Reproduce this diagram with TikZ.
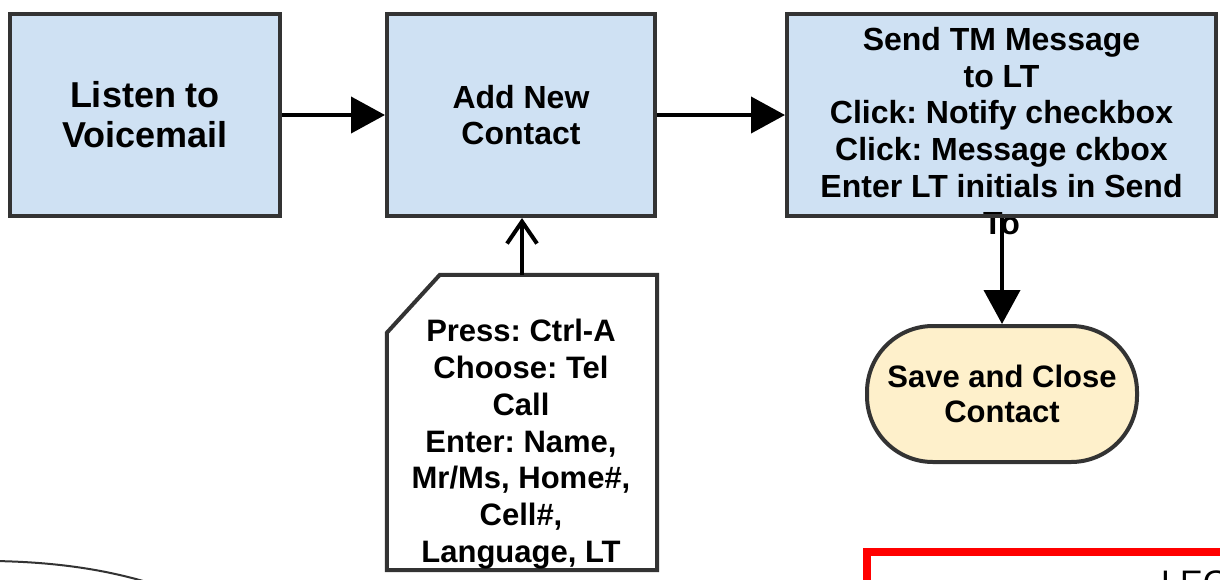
\documentclass[tikz,border=0pt]{standalone}
\usepackage{fontspec}
\setmainfont{Liberation Sans}
\usetikzlibrary{arrows.meta,calc}
\definecolor{procfill}{HTML}{CFE1F3}
\definecolor{termfill}{HTML}{FEF0CB}
\definecolor{edgeline}{HTML}{333333}
\definecolor{legendred}{HTML}{FF0000}
\frenchspacing

\begin{document}
\begin{tikzpicture}[x=1pt,y=-1pt,
  proc/.style={draw=edgeline, line width=4pt, fill=procfill, rectangle,
    inner sep=0pt, align=center},
  term/.style={draw=edgeline, line width=4pt, fill=termfill, rectangle,
    rounded corners=66pt, inner sep=0pt, align=center,
    minimum width=270pt, minimum height=136pt},
  txt/.style={font=\fontsize{32}{36.8}\selectfont\bfseries, align=center},
  flow/.style={line width=4pt, -{Triangle[length=34pt,width=36pt]}},
  feed/.style={line width=4pt, -{Straight Barb[length=22pt,width=30pt]}}
]
\clip (0,0) rectangle (1220,579);
\useasboundingbox (0,0) rectangle (1220,579);

% process boxes
\node[proc, minimum width=270pt, minimum height=202pt,
      font=\fontsize{36}{40}\selectfont\bfseries] (b1) at (145,115)
  {Listen to\\Voicemail};
\node[proc, txt, minimum width=268pt, minimum height=202pt] (b2) at (521,115)
  {Add New\\Contact};
\node[proc, minimum width=429pt, minimum height=202pt] (b3) at (1001.5,115) {};
\node[txt, inner sep=0pt, anchor=north] (b3text) at (1001.5,27)
  {Send TM Message\\to LT\\Click: Notify checkbox\\Click: Message ckbox\\Enter LT initials in Send\\To};
% the frame is stroked again so that it covers the overflowing last line
\draw[draw=edgeline, line width=4pt]
  ([shift={(2,-2)}]b3.south west) rectangle ([shift={(-2,2)}]b3.north east);

% manual input card
\node[minimum width=270pt, minimum height=295pt, inner sep=0pt] (card) at (522,422.5) {};
\draw[draw=edgeline, line width=4pt, fill=white]
  ($(card.north west)+(0,58)$) -- ($(card.north west)+(53,0)$) --
  (card.north east) -- (card.south east) -- (card.south west) -- cycle;
\node[txt, inner sep=0pt, anchor=north, font=\fontsize{31}{36.8}\selectfont\bfseries]
  (cardtext) at (521,319)
  {Press: Ctrl-A\\Choose: Tel\\Call\\Enter: Name,\\Mr/Ms, Home\#,\\Cell\#,\\Language, LT};

% terminator
\node[term, font=\fontsize{31}{35}\selectfont\bfseries] (t1) at (1002,394)
  {Save and Close\\Contact};

% connectors
\draw[flow] (b1) -- (b2);
\draw[flow] (b2) -- (b3);
\draw[feed] (card.north) -- (card.north |- b2.south);
\draw[flow] (b3.south -| t1.north) -- (t1.north);

% legend frame
\draw[legendred, line width=8pt] (867,552) rectangle (1400,800);
\node[anchor=north west, inner sep=0pt, font=\fontsize{34}{40}\selectfont]
  (legend) at (1161,571) {LEGEND};

% stray curve at lower left
\draw[line width=2pt, edgeline] (-5,561) .. controls (50,562) and (100,568) .. (150,583);
\end{tikzpicture}
\end{document}
